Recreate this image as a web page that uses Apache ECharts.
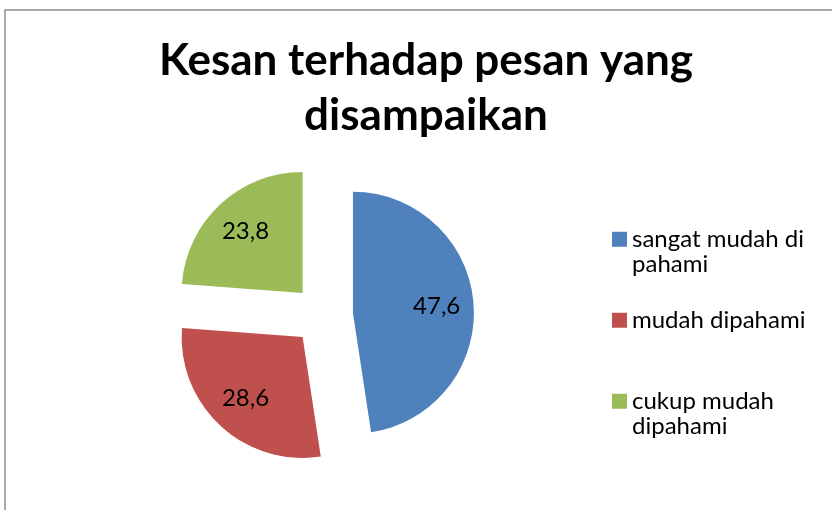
<!DOCTYPE html>
<html>
<head>
<meta charset="utf-8">
<script src="https://cdn.jsdelivr.net/npm/echarts@6/dist/echarts.min.js"></script>
<style>
html,body{margin:0;padding:0;background:#fff;}
#chart{width:832px;height:510px;}
</style>
</head>
<body>
<div id="chart"></div>
<script>
var titleText = 'Kesan terhadap pesan yang\ndisampaikan';
var categories = ['sangat mudah di pahami', 'mudah dipahami', 'cukup mudah dipahami'];
var legendLabels = ['\nsangat mudah di\npahami', 'mudah dipahami', '\ncukup mudah\ndipahami'];
var values = [47.6, 28.6, 23.8];
var colors = ['#4F81BD', '#C0504D', '#9BBB59'];

var FONT = 'Lato';
var chart = echarts.init(document.getElementById('chart'), null, {renderer: 'canvas'});

var pieData = categories.map(function (c, i) {
  return { name: c, value: values[i], selected: true, itemStyle: { color: colors[i] } };
});
var labelData = categories.map(function (c, i) {
  return { name: c, value: values[i], selected: true };
});
var legendMap = {};
categories.forEach(function (c, i) { legendMap[c] = legendLabels[i]; });

var option = {
  animation: false,
  backgroundColor: '#ffffff',
  color: colors,
  title: {
    text: titleText,
    left: 426,
    top: 33,
    padding: 0,
    textAlign: 'center',
    textStyle: { fontFamily: FONT, fontWeight: 'bold', fontSize: 44, lineHeight: 55, color: '#000' }
  },
  legend: {
    orient: 'vertical',
    left: 612,
    top: 201,
    padding: 0,
    itemWidth: 15,
    itemHeight: 15,
    itemGap: 30,
    icon: 'rect',
    selectedMode: false,
    data: categories,
    formatter: function (n) { return legendMap[n]; },
    textStyle: { fontFamily: FONT, fontSize: 24, lineHeight: 25.5, color: '#000' }
  },
  graphic: [{
    type: 'rect',
    shape: { x: 5, y: 10, width: 900, height: 600 },
    style: { fill: 'none', stroke: '#8e8e8e', lineWidth: 1.5 },
    silent: true
  }],
  series: [{
    type: 'pie',
    center: [323, 315],
    radius: [0, 121],
    startAngle: 90,
    clockwise: true,
    selectedMode: 'multiple',
    selectedOffset: 30,
    silent: true,
    label: { show: false },
    labelLine: { show: false },
    emphasis: { disabled: true },
    data: pieData
  }, {
    type: 'pie',
    center: [323, 315],
    radius: [0, 162],
    startAngle: 90,
    clockwise: true,
    selectedMode: 'multiple',
    selectedOffset: 30,
    silent: true,
    itemStyle: { color: 'rgba(0,0,0,0)' },
    label: {
      show: true,
      position: 'inside',
      fontFamily: FONT,
      fontSize: 24,
      color: '#000',
      formatter: function (p) { return String(p.value).replace('.', ','); }
    },
    labelLine: { show: false },
    emphasis: { disabled: true },
    data: labelData
  }]
};
chart.setOption(option);
</script>
</body>
</html>
